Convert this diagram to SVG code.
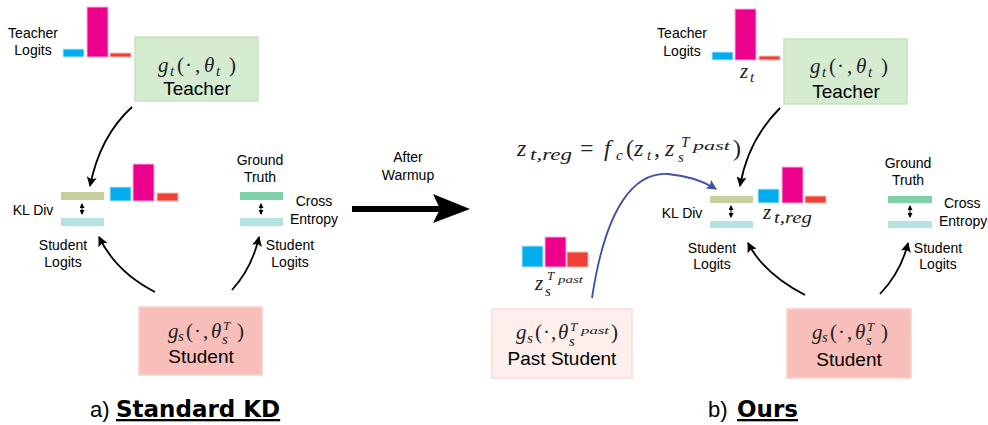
<svg xmlns="http://www.w3.org/2000/svg" width="988" height="425" viewBox="0 0 988 425">
<defs>
<marker id="ah" markerWidth="10" markerHeight="10" refX="9" refY="5" orient="auto" markerUnits="userSpaceOnUse"><path d="M0,0 L10,5 L0,10 L2,5 Z" fill="#000"/></marker>
<marker id="ahb" markerWidth="10" markerHeight="10" refX="9" refY="5" orient="auto" markerUnits="userSpaceOnUse"><path d="M0,0 L10,5 L0,10 L2,5 Z" fill="#3b4fa6"/></marker>
<marker id="da" markerWidth="5" markerHeight="5" refX="4" refY="2.5" orient="auto-start-reverse" markerUnits="userSpaceOnUse"><path d="M0,0 L5,2.5 L0,5 Z" fill="#000"/></marker>
</defs>
<style>
.lbl{font-family:"Liberation Sans",Arial,sans-serif;font-size:14px;fill:#000}
.big{font-family:"Liberation Sans",Arial,sans-serif;font-size:19px;fill:#000}
.m{font-family:"Liberation Serif","Times New Roman",serif;font-size:21px;fill:#222}
.mf{font-size:24px}
.i{font-style:italic}
.s{font-size:15px}
.ss{font-size:13px}
.sss{font-size:11px}
.cy{fill:#00aeef;stroke:#bfe9fb;stroke-width:1}
.mg{fill:#ec008c;stroke:#f7b3d9;stroke-width:1}
.rd{fill:#ef4136;stroke:#f9c0bb;stroke-width:1}
.ol{fill:#c6d09c}
.lc{fill:#b3e4df}
.gr{fill:#80d0a5}
.tbox{fill:#d6ecd1;stroke:#c3e3be;stroke-width:1.5}
.sbox{fill:#f8bfba;stroke:#f6d0cb;stroke-width:1.5}
.pbox{fill:#fdefeb;stroke:#fbdcd4;stroke-width:1.5}
.c{fill:none;stroke:#000;stroke-width:1.8}
.dbl{stroke:#000;stroke-width:1;marker-start:url(#da);marker-end:url(#da)}
.ttl{font-family:"DejaVu Sans",Verdana,sans-serif;font-weight:bold;font-size:23px;fill:#000;text-decoration:underline}
.tl{font-family:"Liberation Sans",Arial,sans-serif;font-size:22px;fill:#000}
</style>
<rect width="988" height="425" fill="#fff"/>

<!-- LEFT PANEL -->
<g id="teacher-logits-a">
<text class="lbl" text-anchor="middle"><tspan x="33" y="38">Teacher</tspan><tspan x="33" y="55">Logits</tspan></text>
<rect class="cy" x="63" y="49" width="21" height="8"/>
<rect class="mg" x="87" y="7" width="21" height="50"/>
<rect class="rd" x="110" y="53" width="21" height="4"/>
</g>
<g id="teacher-a">
<rect class="tbox" x="135" y="37" width="123" height="64"/>
<text class="m"><tspan class="i" x="158" y="72">g</tspan><tspan class="i s" x="170" y="76">t</tspan><tspan x="177" y="72">(</tspan><tspan x="185" y="72">·</tspan><tspan x="195" y="72">,</tspan><tspan class="i" x="204" y="72">θ</tspan><tspan class="i s" x="216" y="76">t</tspan><tspan x="229" y="72">)</tspan></text>
<text class="big" x="197" y="95" text-anchor="middle">Teacher</text>
</g>
<g id="kl-a">
<text class="lbl" x="33" y="215" text-anchor="middle">KL Div</text>
<rect class="ol" x="61" y="192" width="43" height="8"/>
<line class="dbl" x1="82" y1="204" x2="82" y2="214"/>
<rect class="lc" x="61" y="218" width="43" height="8"/>
<rect class="cy" x="110" y="187" width="21" height="14"/>
<rect class="mg" x="133" y="164" width="21" height="37"/>
<rect class="rd" x="157" y="193" width="21" height="8"/>
<text class="lbl" text-anchor="middle"><tspan x="63" y="250">Student</tspan><tspan x="63" y="267">Logits</tspan></text>
</g>
<g id="ce-a">
<text class="lbl" text-anchor="middle"><tspan x="260" y="165">Ground</tspan><tspan x="260" y="182">Truth</tspan></text>
<rect class="gr" x="240" y="192" width="43" height="8"/>
<line class="dbl" x1="261" y1="204" x2="261" y2="214"/>
<rect class="lc" x="240" y="218" width="43" height="8"/>
<text class="lbl" text-anchor="middle"><tspan x="314" y="206">Cross</tspan><tspan x="314" y="224">Entropy</tspan></text>
<text class="lbl" text-anchor="middle"><tspan x="290" y="250">Student</tspan><tspan x="290" y="267">Logits</tspan></text>
</g>
<g id="student-a">
<rect class="sbox" x="139" y="307" width="123" height="68"/>
<text class="m"><tspan class="i" x="168" y="338">g</tspan><tspan class="i s" x="178" y="341">s</tspan><tspan x="186" y="338">(</tspan><tspan x="194" y="338">·</tspan><tspan x="203" y="338">,</tspan><tspan class="i" x="211" y="338">θ</tspan><tspan class="i ss" x="223" y="330">T</tspan><tspan class="i s" x="222" y="344">s</tspan><tspan x="237" y="338">)</tspan></text>
<text class="big" x="201" y="363" text-anchor="middle">Student</text>
</g>
<g id="title-a">
<text class="tl" x="90" y="417">a)</text>
<text class="ttl" x="116" y="417">Standard KD</text>
</g>

<!-- MIDDLE -->
<g id="warmup">
<text class="lbl" font-size="14.5" text-anchor="middle"><tspan x="408" y="162">After</tspan><tspan x="408" y="180">Warmup</tspan></text>
<line x1="352" y1="209" x2="440" y2="209" stroke="#000" stroke-width="6"/>
<path d="M433,194 L470,209 L433,223 L440,209 Z" fill="#000"/>
</g>

<!-- RIGHT PANEL -->
<g id="teacher-logits-b">
<text class="lbl" text-anchor="middle"><tspan x="682" y="38">Teacher</tspan><tspan x="682" y="56">Logits</tspan></text>
<rect class="cy" x="712" y="52" width="21" height="8"/>
<rect class="mg" x="735" y="9" width="21" height="51"/>
<rect class="rd" x="759" y="56" width="21" height="4"/>
<text class="m"><tspan class="i" x="740" y="78">z</tspan><tspan class="i s" x="750" y="82">t</tspan></text>
</g>
<g id="teacher-b">
<rect class="tbox" x="784" y="39" width="123" height="65"/>
<text class="m"><tspan class="i" x="810" y="73">g</tspan><tspan class="i s" x="822" y="77">t</tspan><tspan x="829" y="73">(</tspan><tspan x="837" y="73">·</tspan><tspan x="847" y="73">,</tspan><tspan class="i" x="856" y="73">θ</tspan><tspan class="i s" x="868" y="77">t</tspan><tspan x="881" y="73">)</tspan></text>
<text class="big" x="846" y="98" text-anchor="middle">Teacher</text>
</g>
<g id="formula">
<text class="m mf"><tspan class="i" x="517" y="156">z</tspan><tspan class="i" font-size="17" x="530" y="160" textLength="42" lengthAdjust="spacingAndGlyphs">t,reg</tspan><tspan x="580" y="156">=</tspan><tspan class="i" x="604" y="156">f</tspan><tspan class="i s" x="616" y="160">c</tspan><tspan x="626" y="156">(</tspan><tspan class="i" x="634" y="156">z</tspan><tspan class="i s" x="647" y="160">t</tspan><tspan x="654" y="156">,</tspan><tspan class="i" x="665" y="156">z</tspan><tspan class="i" font-size="15" x="681" y="147">T</tspan><tspan class="i" font-size="13" x="693" y="150" textLength="37" lengthAdjust="spacingAndGlyphs">past</tspan><tspan class="i s" x="678" y="162">s</tspan><tspan x="733" y="156">)</tspan></text>
</g>
<g id="past-logits">
<rect class="cy" x="522" y="246" width="21" height="21"/>
<rect class="mg" x="545" y="237" width="21" height="30"/>
<rect class="rd" x="567" y="252" width="21" height="15"/>
<text class="m"><tspan class="i" x="535" y="290">z</tspan><tspan class="i ss" x="547" y="280">T</tspan><tspan class="i sss" x="558" y="283" textLength="25" lengthAdjust="spacingAndGlyphs">past</tspan><tspan class="i s" x="545" y="296">s</tspan></text>
</g>
<g id="kl-b">
<text class="lbl" x="682" y="218" text-anchor="middle">KL Div</text>
<rect class="ol" x="710" y="196" width="43" height="7"/>
<line class="dbl" x1="731" y1="206" x2="731" y2="217"/>
<rect class="lc" x="710" y="221" width="43" height="7"/>
<rect class="cy" x="758" y="189" width="21" height="14"/>
<rect class="mg" x="782" y="167" width="21" height="36"/>
<rect class="rd" x="805" y="196" width="21" height="7"/>
<text class="m"><tspan class="i" x="763" y="219">z</tspan><tspan class="i" font-size="16" x="774" y="223" textLength="38" lengthAdjust="spacingAndGlyphs">t,reg</tspan></text>
<text class="lbl" text-anchor="middle"><tspan x="712" y="253">Student</tspan><tspan x="712" y="269">Logits</tspan></text>
</g>
<g id="ce-b">
<text class="lbl" text-anchor="middle"><tspan x="908" y="168">Ground</tspan><tspan x="908" y="185">Truth</tspan></text>
<rect class="gr" x="888" y="196" width="44" height="7"/>
<line class="dbl" x1="910" y1="206" x2="910" y2="217"/>
<rect class="lc" x="888" y="221" width="44" height="7"/>
<text class="lbl"><tspan x="944" y="208">Cross</tspan><tspan x="939" y="226">Entropy</tspan></text>
<text class="lbl" text-anchor="middle"><tspan x="938" y="253">Student</tspan><tspan x="938" y="269">Logits</tspan></text>
</g>
<g id="past-student">
<rect class="pbox" x="492" y="309" width="140" height="69"/>
<text class="m"><tspan class="i" x="516" y="339">g</tspan><tspan class="i s" x="527" y="343">s</tspan><tspan x="535" y="339">(</tspan><tspan x="543" y="339">·</tspan><tspan x="551" y="339">,</tspan><tspan class="i" x="558" y="339">θ</tspan><tspan class="i ss" x="570" y="331">T</tspan><tspan class="i sss" x="581" y="334" textLength="28" lengthAdjust="spacingAndGlyphs">past</tspan><tspan class="i s" x="569" y="346">s</tspan><tspan x="611" y="339">)</tspan></text>
<text class="big" x="562" y="365" text-anchor="middle">Past Student</text>
</g>
<g id="student-b">
<rect class="sbox" x="787" y="309" width="124" height="69"/>
<text class="m"><tspan class="i" x="812" y="339">g</tspan><tspan class="i s" x="822" y="342">s</tspan><tspan x="830" y="339">(</tspan><tspan x="838" y="339">·</tspan><tspan x="847" y="339">,</tspan><tspan class="i" x="855" y="339">θ</tspan><tspan class="i ss" x="867" y="331">T</tspan><tspan class="i s" x="866" y="345">s</tspan><tspan x="881" y="339">)</tspan></text>
<text class="big" x="849" y="366" text-anchor="middle">Student</text>
</g>
<g id="title-b">
<text class="tl" x="708" y="417">b)</text>
<text class="ttl" x="737" y="417">Ours</text>
</g>

<g id="connectors">
<path class="c" d="M132,107 Q100,136 90,186" marker-end="url(#ah)"/>
<path class="c" d="M155,292 Q116,272 99,237" marker-end="url(#ah)"/>
<path class="c" d="M232,290 Q252,268 259,237" marker-end="url(#ah)"/>
<path class="c" d="M780,108 Q748,140 740,186" marker-end="url(#ah)"/>
<path d="M592,298 C606,205 635,172 668,174 C690,176 705,182 716,189" fill="none" stroke="#3b4fa6" stroke-width="1.8" marker-end="url(#ahb)"/>
<path class="c" d="M805,295 Q764,274 748,243" marker-end="url(#ah)"/>
<path class="c" d="M880,294 Q901,272 908,243" marker-end="url(#ah)"/>
</g>
</svg>
